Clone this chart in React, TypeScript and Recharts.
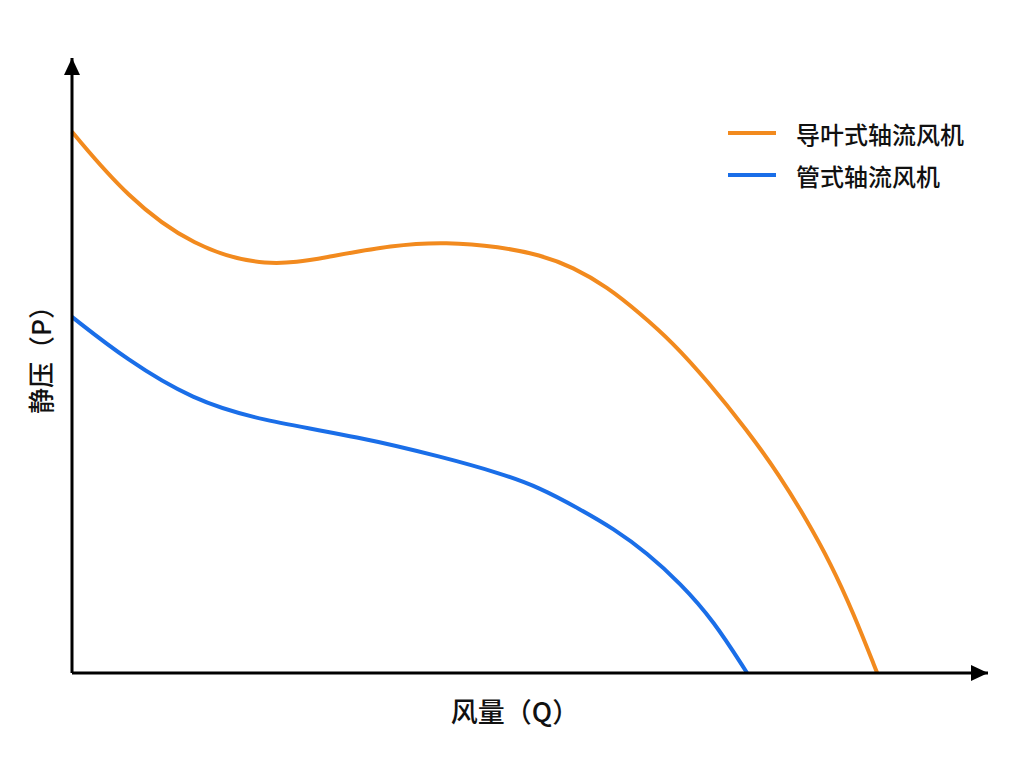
import { Label, Line, LineChart, ReferenceDot, XAxis, YAxis } from "recharts";

// Fan performance curves: static pressure P vs. air volume Q (arbitrary units, 0–100)
const GUIDE_VANE_Q = [0, 6.0, 13.2, 21.3, 27.8, 35.0, 40.9, 46.7, 51.1, 54.7, 58.4, 62.0, 65.6, 69.3, 73.7, 77.3, 80.2, 82.8, 85.3, 87.9];
const GUIDE_VANE_P = [88.0, 77.4, 69.3, 65.9, 67.6, 69.6, 70.1, 69.3, 68.0, 66.0, 62.8, 58.5, 53.7, 47.6, 39.5, 32.0, 24.9, 17.9, 9.8, 0];
const TUBE_Q = [0, 6.0, 13.2, 20.5, 31.4, 40.5, 46.7, 51.0, 55.5, 59.1, 62.8, 66.4, 70.0, 73.7];
const TUBE_P = [57.9, 50.9, 44.4, 41.1, 38.4, 35.1, 32.5, 30.2, 26.6, 23.5, 19.5, 14.6, 8.6, 0];

const SERIES = [
  { name: "导叶式轴流风机", color: "#F28A1E", q: GUIDE_VANE_Q, p: GUIDE_VANE_P },
  { name: "管式轴流风机", color: "#1A6EE8", q: TUBE_Q, p: TUBE_P },
];

const FONT = '"Noto Sans CJK SC", "Noto Sans", sans-serif';

const toPoints = (q: number[], p: number[]) => q.map((x, i) => ({ q: x, p: p[i] }));

function ArrowUp({ cx, cy }: { cx?: number; cy?: number }) {
  if (cx == null || cy == null) return null;
  return <path d={`M${cx},${cy} L${cx - 8},${cy + 17} L${cx + 8},${cy + 17} Z`} fill="#000" />;
}

function ArrowRight({ cx, cy }: { cx?: number; cy?: number }) {
  if (cx == null || cy == null) return null;
  return <path d={`M${cx},${cy} L${cx - 17},${cy - 8} L${cx - 17},${cy + 8} Z`} fill="#000" />;
}

function LegendBox() {
  return (
    <div style={{ position: "absolute", left: 728, top: 112, fontFamily: FONT }}>
      {SERIES.map((s) => (
        <div key={s.name} style={{ display: "flex", alignItems: "center", height: 42 }}>
          <div style={{ width: 48, height: 4, background: s.color, marginRight: 20 }} />
          <span style={{ fontSize: 24, fontWeight: 500, color: "#111" }}>{s.name}</span>
        </div>
      ))}
    </div>
  );
}

export default function App() {
  return (
    <div style={{ position: "absolute", left: 0, top: 0, width: 1024, height: 768, background: "#fff" }}>
      <LineChart width={1024} height={768} margin={{ top: 58, left: 71, right: 36, bottom: 94 }}>
        <XAxis
          type="number"
          dataKey="q"
          domain={[0, 100]}
          height={1}
          tick={false}
          tickLine={false}
          axisLine={{ stroke: "#000", strokeWidth: 3 }}
        >
          <Label
            content={({ viewBox }: any) => (
              <text
                x={viewBox.x + viewBox.width / 2 - 15}
                y={viewBox.y + 49}
                textAnchor="middle"
                fontFamily={FONT}
                fontSize={27}
                fontWeight={500}
                fill="#111"
              >
                风量（Q）
              </text>
            )}
          />
        </XAxis>
        <YAxis
          type="number"
          dataKey="p"
          domain={[0, 100]}
          width={1}
          tick={false}
          tickLine={false}
          axisLine={{ stroke: "#000", strokeWidth: 3 }}
        >
          <Label
            content={({ viewBox }: any) => {
              const x = viewBox.x - 32;
              const y = viewBox.y + viewBox.height / 2 - 12;
              return (
                <text
                  x={x}
                  y={y}
                  transform={`rotate(-90 ${x} ${y})`}
                  textAnchor="middle"
                  dominantBaseline="central"
                  fontFamily={FONT}
                  fontSize={26}
                  fontWeight={500}
                  fill="#111"
                >
                  静压（P）
                </text>
              );
            }}
          />
        </YAxis>
        {SERIES.map((s) => (
          <Line
            key={s.name}
            name={s.name}
            data={toPoints(s.q, s.p)}
            dataKey="p"
            type="basis"
            stroke={s.color}
            strokeWidth={4}
            dot={false}
            activeDot={false}
            isAnimationActive={false}
          />
        ))}
        <ReferenceDot x={0} y={100} r={0} shape={(props: any) => <ArrowUp cx={props.cx} cy={props.cy} />} />
        <ReferenceDot x={100} y={0} r={0} shape={(props: any) => <ArrowRight cx={props.cx} cy={props.cy} />} />
      </LineChart>
      <LegendBox />
    </div>
  );
}
